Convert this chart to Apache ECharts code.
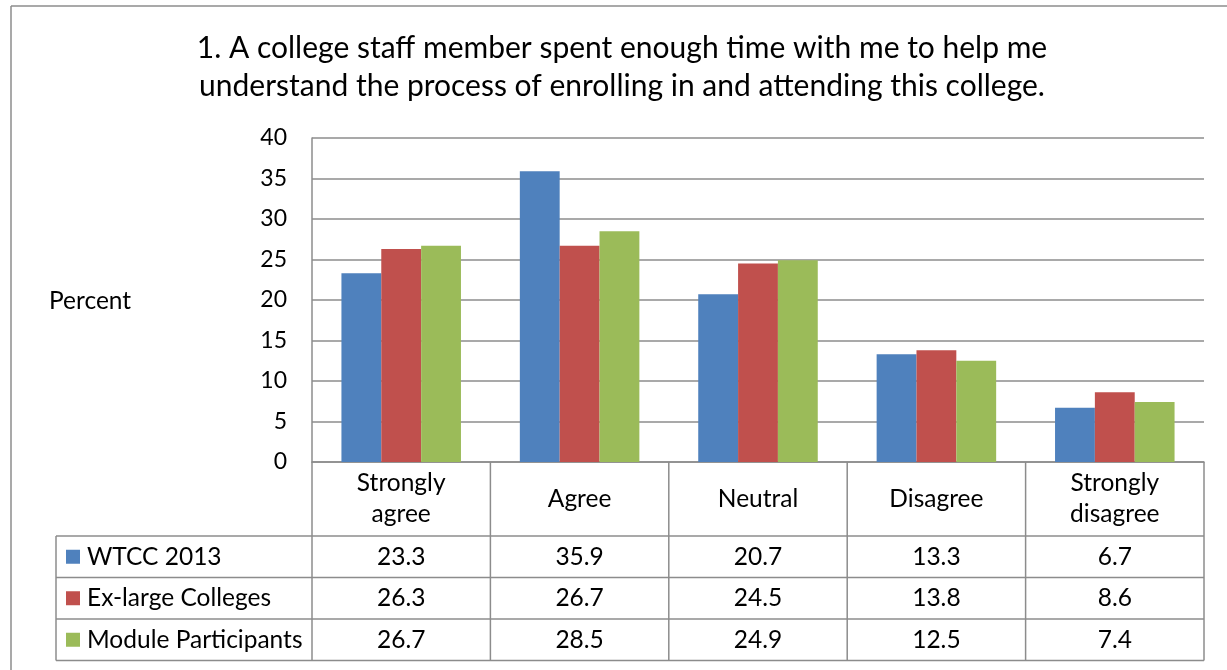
<!DOCTYPE html>
<html>
<head>
<meta charset="utf-8">
<script src="https://cdn.jsdelivr.net/npm/echarts@6/dist/echarts.min.js"></script>
<style>
  html, body { margin: 0; padding: 0; background: #fff; }
  #chart { width: 1227px; height: 670px; }
</style>
</head>
<body>
<div id="chart"></div>
<script>
// Survey responses (percent) for item 1
const categories = ['Strongly\nagree', 'Agree', 'Neutral', 'Disagree', 'Strongly\ndisagree'];
const seriesNames = ['WTCC 2013', 'Ex-large Colleges', 'Module Participants'];
const wtcc2013 = [23.3, 35.9, 20.7, 13.3, 6.7];
const exLargeColleges = [26.3, 26.7, 24.5, 13.8, 8.6];
const moduleParticipants = [26.7, 28.5, 24.9, 12.5, 7.4];
const yTicks = { min: 0, max: 40, interval: 5 };
const titleLines = [
  '1. A college staff member spent enough time with me to help me',
  'understand the process of enrolling in and attending this college.'
];
const yAxisName = 'Percent';

const colors = ['#4F81BD', '#C0504D', '#9BBB59'];
const seriesValues = [wtcc2013, exLargeColleges, moduleParticipants];
const FONT = 'Lato, "Open Sans", sans-serif';
const LINE = '#8c8c8c';
const TABLE_FONT = '24.5px ' + FONT;

const chart = echarts.init(document.getElementById('chart'), null, { renderer: 'canvas' });

const gridBox = { left: 312, top: 138, right: 23, bottom: 208 };

chart.setOption({
  animation: false,
  backgroundColor: '#fff',
  color: colors,
  grid: gridBox,
  xAxis: {
    type: 'category',
    data: categories,
    axisLine: { show: true, lineStyle: { color: LINE, width: 1.5 } },
    axisTick: { show: false },
    axisLabel: { show: false },
    splitLine: { show: false }
  },
  yAxis: {
    type: 'value',
    min: yTicks.min,
    max: yTicks.max,
    interval: yTicks.interval,
    axisLine: { show: true, lineStyle: { color: LINE, width: 1.5 } },
    axisTick: { show: false },
    axisLabel: { color: '#000', fontFamily: FONT, fontSize: 23, margin: 25 },
    splitLine: { show: true, lineStyle: { color: LINE, width: 1.5 } }
  },
  series: seriesNames.map((name, i) => ({
    name: name,
    type: 'bar',
    data: seriesValues[i],
    barGap: '0%',
    barCategoryGap: '33%',
    itemStyle: { color: colors[i] }
  }))
});

// Build the title, axis name, frame and data table beneath the plot
function buildGraphics() {
  const g = [];
  const left = gridBox.left;
  const right = 1227 - gridBox.right;
  const base = 670 - gridBox.bottom;
  const colW = (right - left) / categories.length;
  const tableLeft = 56;
  const headerBottom = 536;
  const rowH = 41.5;
  const lineStyle = { stroke: LINE, lineWidth: 1.5 };
  const line = (x1, y1, x2, y2) => ({ type: 'line', shape: { x1, y1, x2, y2 }, style: lineStyle, silent: true });

  // outer frame
  g.push(line(11, 6, 1227, 6));
  g.push(line(11, 6, 11, 670));

  // title
  titleLines.forEach((t, i) => {
    g.push({ type: 'text', x: 622, y: 48 + i * 38,
      style: { text: t, fill: '#000', font: '30px ' + FONT, align: 'center', verticalAlign: 'middle' } });
  });

  // y axis name
  g.push({ type: 'text', x: 49, y: 301,
    style: { text: yAxisName, fill: '#000', font: TABLE_FONT, align: 'left', verticalAlign: 'middle' } });

  // header: vertical separators and category names
  for (let i = 0; i <= categories.length; i++) {
    const x = left + i * colW;
    g.push(line(x, base, x, headerBottom + rowH * seriesNames.length));
  }
  categories.forEach((c, i) => {
    const cx = chart.convertToPixel({ xAxisIndex: 0 }, i);
    g.push({ type: 'text', x: cx, y: (base + headerBottom) / 2,
      style: { text: c, fill: '#000', font: TABLE_FONT, align: 'center', verticalAlign: 'middle', lineHeight: 31 } });
  });

  // rows
  const tableBottom = headerBottom + rowH * seriesNames.length;
  g.push(line(tableLeft, headerBottom, tableLeft, tableBottom));
  for (let r = 0; r <= seriesNames.length; r++) {
    const y = headerBottom + r * rowH;
    g.push(line(tableLeft, y, right, y));
  }
  seriesNames.forEach((name, r) => {
    const cy = headerBottom + r * rowH + rowH / 2;
    g.push({ type: 'rect', shape: { x: 66, y: cy - 7, width: 14, height: 14 }, style: { fill: colors[r] }, silent: true });
    g.push({ type: 'text', x: 87, y: cy,
      style: { text: name, fill: '#000', font: TABLE_FONT, align: 'left', verticalAlign: 'middle' } });
    seriesValues[r].forEach((v, i) => {
      const cx = chart.convertToPixel({ xAxisIndex: 0 }, i);
      g.push({ type: 'text', x: cx, y: cy,
        style: { text: v.toFixed(1), fill: '#000', font: TABLE_FONT, align: 'center', verticalAlign: 'middle' } });
    });
  });
  return g;
}

chart.setOption({ graphic: buildGraphics() });
</script>
</body>
</html>
